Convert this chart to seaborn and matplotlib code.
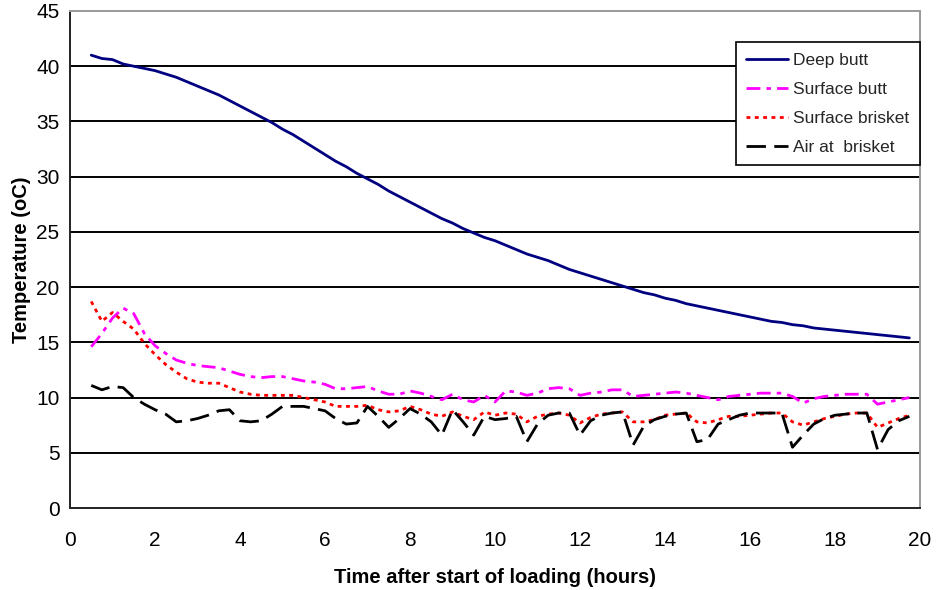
import numpy as np
import pandas as pd
import matplotlib
matplotlib.use("Agg")
import matplotlib.pyplot as plt
from matplotlib.ticker import MultipleLocator
import seaborn as sns

hours = [0.5 + 0.25 * i for i in range(78)]

deep_butt = [41.0, 40.7, 40.6, 40.2, 40.0, 39.8, 39.6, 39.3, 39.0, 38.6,
             38.2, 37.8, 37.4, 36.9, 36.4, 35.9, 35.4, 34.9, 34.3, 33.8,
             33.2, 32.6, 32.0, 31.4, 30.9, 30.3, 29.8, 29.3, 28.7, 28.2,
             27.7, 27.2, 26.7, 26.2, 25.8, 25.3, 24.9, 24.5, 24.2, 23.8,
             23.4, 23.0, 22.7, 22.4, 22.0, 21.6, 21.3, 21.0, 20.7, 20.4,
             20.1, 19.8, 19.5, 19.3, 19.0, 18.8, 18.5, 18.3, 18.1, 17.9,
             17.7, 17.5, 17.3, 17.1, 16.9, 16.8, 16.6, 16.5, 16.3, 16.2,
             16.1, 16.0, 15.9, 15.8, 15.7, 15.6, 15.5, 15.4]

surface_butt = [14.6, 15.8, 17.2, 18.1, 17.6, 15.8, 14.7, 14.0, 13.4, 13.1,
                12.9, 12.8, 12.7, 12.4, 12.1, 11.9, 11.8, 11.9, 11.9, 11.7,
                11.5, 11.4, 11.2, 10.8, 10.8, 10.9, 11.0, 10.6, 10.3, 10.3,
                10.6, 10.4, 10.1, 9.8, 10.3, 9.8, 9.6, 10.2, 9.6, 10.6,
                10.5, 10.2, 10.4, 10.8, 10.9, 10.8, 10.2, 10.4, 10.5, 10.7,
                10.7, 10.1, 10.2, 10.3, 10.4, 10.5, 10.4, 10.2, 10.0, 9.8,
                10.1, 10.2, 10.3, 10.4, 10.4, 10.4, 10.1, 9.5, 9.9, 10.1,
                10.2, 10.3, 10.3, 10.3, 9.4, 9.6, 9.8, 10.0]

surface_brisket = [18.7, 16.9, 17.7, 16.9, 16.2, 14.9, 13.9, 13.0, 12.3, 11.7,
                   11.4, 11.3, 11.3, 10.9, 10.5, 10.3, 10.2, 10.2, 10.2, 10.2,
                   10.0, 9.8, 9.6, 9.2, 9.2, 9.2, 9.3, 8.9, 8.7, 8.8,
                   9.2, 8.9, 8.5, 8.3, 8.7, 8.3, 8.0, 8.7, 8.4, 8.6,
                   8.5, 7.8, 8.3, 8.5, 8.6, 8.4, 7.7, 8.2, 8.5, 8.6,
                   8.7, 7.8, 7.8, 8.0, 8.4, 8.5, 8.6, 7.8, 7.7, 8.0,
                   8.3, 8.3, 8.4, 8.5, 8.6, 8.6, 7.8, 7.5, 7.8, 8.1,
                   8.3, 8.5, 8.6, 8.6, 7.3, 7.7, 8.1, 8.4]

air_brisket = [11.1, 10.7, 11.0, 10.9, 10.0, 9.4, 8.9, 8.5, 7.8, 7.9,
               8.1, 8.4, 8.8, 8.9, 7.9, 7.8, 7.9, 8.5, 9.2, 9.2,
               9.2, 9.0, 8.8, 8.1, 7.6, 7.7, 9.2, 8.3, 7.3, 8.1,
               9.0, 8.5, 7.8, 6.6, 8.9, 7.8, 6.6, 8.3, 8.0, 8.1,
               8.3, 6.0, 7.6, 8.4, 8.6, 8.6, 6.6, 7.9, 8.4, 8.6,
               8.7, 5.7, 7.4, 8.0, 8.3, 8.5, 8.6, 6.0, 6.2, 7.6,
               8.0, 8.4, 8.6, 8.6, 8.6, 8.6, 5.5, 6.6, 7.6, 8.1,
               8.4, 8.5, 8.6, 8.6, 5.3, 7.1, 7.9, 8.3]

series_names = ["Deep butt", "Surface butt", "Surface brisket", "Air at  brisket"]
series_colors = ["#000080", "#FF00FF", "#FF0000", "#000000"]
series_values = [deep_butt, surface_butt, surface_brisket, air_brisket]

x_label = "Time after start of loading (hours)"
y_label = "Temperature (oC)"

sns.set_style("white")
plt.rcParams["font.family"] = ["Liberation Sans Narrow", "Liberation Sans", "DejaVu Sans"]

df = pd.concat([
    pd.DataFrame({"hours": hours, "temp": vals, "series": name})
    for name, vals in zip(series_names, series_values)
], ignore_index=True)

fig = plt.figure(figsize=(9.45, 5.9), dpi=100)
ax = fig.add_axes([70 / 945, 1 - 508 / 590, 850 / 945, 497 / 590])

dash_styles = {
    "Deep butt": "",
    "Surface butt": (5, 2.2, 1.6, 2.2),
    "Surface brisket": (1.4, 1.6),
    "Air at  brisket": (7, 3),
}
sns.lineplot(data=df, x="hours", y="temp", hue="series", style="series",
             hue_order=series_names, style_order=series_names,
             palette=dict(zip(series_names, series_colors)),
             dashes=dash_styles, linewidth=2.0, ax=ax, zorder=3)

ax.set_xlim(0, 20)
ax.set_ylim(0, 45)
ax.xaxis.set_major_locator(MultipleLocator(2))
ax.xaxis.set_minor_locator(MultipleLocator(0.5))
ax.yaxis.set_major_locator(MultipleLocator(5))
ax.yaxis.set_minor_locator(MultipleLocator(1))

for yv in range(5, 45, 5):
    ax.axhline(yv, color="black", lw=1.4, zorder=1)

for s in ["left", "bottom"]:
    ax.spines[s].set_color("#222222")
    ax.spines[s].set_linewidth(1.4)
for s in ["top", "right"]:
    ax.spines[s].set_color("#999999")
    ax.spines[s].set_linewidth(1.4)

ax.tick_params(axis="both", which="major", direction="inout", length=9, width=1.3,
               labelsize=15, color="#222222", labelcolor="black")
ax.tick_params(axis="both", which="minor", direction="in", length=5, width=1.2,
               color="#222222")
ax.tick_params(axis="x", which="major", pad=12)
ax.tick_params(axis="y", which="major", pad=3)

ax.set_xlabel(x_label, fontsize=14.5, fontweight="bold", labelpad=13, color="black")
ax.set_ylabel(y_label, fontsize=14.5, fontweight="bold", labelpad=4, color="black")

leg = ax.legend(loc="upper left", bbox_to_anchor=(0.7835, 0.9376), fontsize=12.5,
                frameon=True, fancybox=False, handlelength=2.4, handletextpad=0.3,
                borderpad=0.6, labelspacing=0.8, borderaxespad=0)
leg.get_frame().set_edgecolor("black")
leg.get_frame().set_linewidth(1.2)
leg.get_frame().set_facecolor("white")
leg.get_frame().set_alpha(1)
leg.set_zorder(5)

fig.savefig("out.png", dpi=100)
